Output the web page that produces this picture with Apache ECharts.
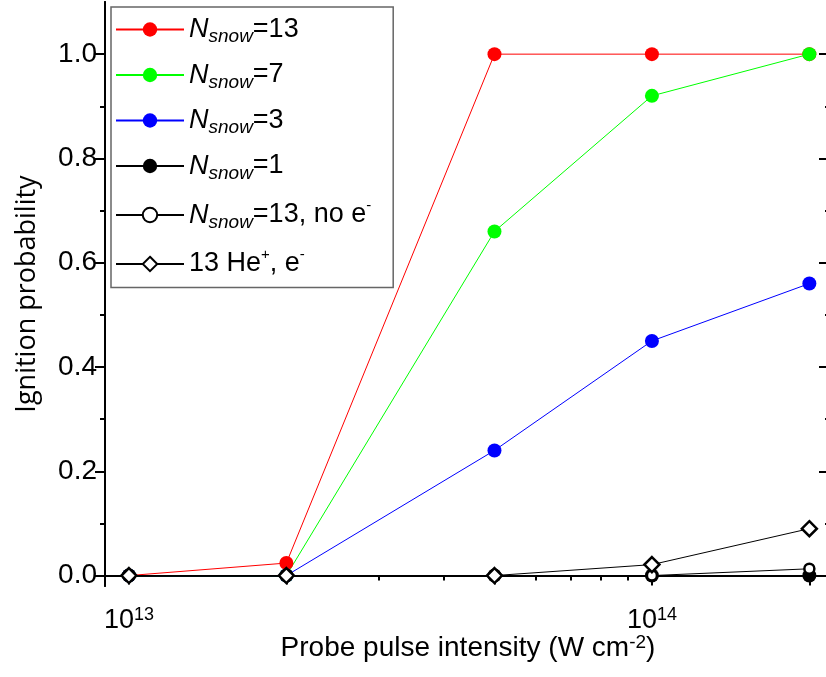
<!DOCTYPE html>
<html>
<head>
<meta charset="utf-8">
<script src="https://cdn.jsdelivr.net/npm/echarts@6/dist/echarts.min.js"></script>
<style>
  html, body { margin: 0; padding: 0; background: #fff; }
  #main { width: 826px; height: 677px; }
</style>
</head>
<body>
<div id="main"></div>
<script>
// data
const intensity = [1e13, 2e13, 5e13, 1e14, 2e14];
const nsnow13 = [0, 0.024, 1.0, 1.0, 1.0];
const nsnow7 = [0, 0, 0.66, 0.92, 1.0];
const nsnow3 = [0, 0, 0.24, 0.45, 0.56];
const nsnow1 = [0, 0, 0, 0, 0];
const nsnow13NoE = [0, 0, 0, 0, 0.013];
const he13 = [0, 0, 0, 0.021, 0.09];

// ticks
const xLabelTicks = [1e13, 1e14];
const xMajorTicks = [1e13, 2e13, 5e13, 1e14, 2e14];
const xMinorTicks = [3e13, 4e13, 6e13, 7e13, 8e13, 9e13];
const xTopMajor = [1e14, 2e14];
const xTopMinor = [1e13, 2e13, 3e13, 4e13, 5e13, 6e13, 7e13, 8e13, 9e13];
const yMajorTicks = [0, 0.2, 0.4, 0.6, 0.8, 1.0];
const yMinorTicks = [0.1, 0.3, 0.5, 0.7, 0.9];

const legendText = {
  n13: "{n|N}{sub|snow}{t|=13}",
  n7: "{n|N}{sub|snow}{t|=7}",
  n3: "{n|N}{sub|snow}{t|=3}",
  n1: "{n|N}{sub|snow}{t|=1}",
  n13noe: "{n|N}{sub|snow}{t|=13, no e}{sup|-}",
  he: "{t|13 He}{sup|+}{t|, e}{sup|-}",
};

const font = "Arial, 'Liberation Sans', sans-serif";
const black = "#000";
const pair = (ys) => intensity.map((x, i) => [x, ys[i]]);

function xAx(pos, ticks, len, inside, extra) {
  return Object.assign({
    type: "log",
    position: pos,
    min: 9e12,
    max: 2.2e14,
    axisLine: { show: true, lineStyle: { color: black, width: 2 } },
    axisTick: { show: true, inside: inside, length: len, customValues: ticks, lineStyle: { color: black, width: 2 } },
    axisLabel: { show: false },
    splitLine: { show: false },
  }, extra || {});
}

function yAx(pos, ticks, len, inside, extra) {
  return Object.assign({
    type: "value",
    position: pos,
    min: -0.02,
    max: 1.1,
    axisLine: { show: true, lineStyle: { color: black, width: 2 } },
    axisTick: { show: true, inside: inside, length: len, customValues: ticks, lineStyle: { color: black, width: 2 } },
    axisLabel: { show: false },
    splitLine: { show: false },
  }, extra || {});
}

function lineSeries(name, ys, color, symbol, size, itemStyle) {
  return {
    name: name,
    type: "line",
    data: pair(ys),
    symbol: symbol,
    symbolSize: size,
    lineStyle: { color: color, width: 1 },
    itemStyle: itemStyle || { color: color },
    emphasis: { disabled: true },
    xAxisIndex: 0,
    yAxisIndex: 0,
  };
}

const option = {
  animation: false,
  backgroundColor: "#fff",
  grid: { left: 105, top: 2, width: 726, height: 584, outerBoundsMode: "none" },
  legend: {
    orient: "vertical",
    left: 111,
    top: 7,
    padding: [9, 22, 10, 4],
    itemWidth: 68,
    itemHeight: 18,
    itemGap: 15,
    selectedMode: false,
    borderColor: "#666",
    borderWidth: 1.5,
    backgroundColor: "#fff",
    formatter: (name) => legendText[name],
    textStyle: {
      color: black,
      fontFamily: font,
      fontSize: 27,
      rich: {
        n: { fontFamily: font, fontSize: 27, fontStyle: "italic", color: black, lineHeight: 34 },
        sub: { fontFamily: font, fontSize: 19, fontStyle: "italic", color: black, lineHeight: 34, verticalAlign: "bottom" },
        t: { fontFamily: font, fontSize: 27, color: black, lineHeight: 34 },
        sup: { fontFamily: font, fontSize: 15, color: black, lineHeight: 34, verticalAlign: "top" },
      },
    },
  },
  xAxis: [
    xAx("bottom", xMajorTicks, 9, false, {
      axisLabel: {
        show: true,
        customValues: xLabelTicks,
        margin: 20,
        formatter: (v) => "{b|10}{s|" + Math.round(Math.log10(v)) + "}",
        rich: {
          b: { fontFamily: font, fontSize: 27, color: black, lineHeight: 30 },
          s: { fontFamily: font, fontSize: 18, color: black, lineHeight: 30, verticalAlign: "top" },
        },
      },
      name: "Probe pulse intensity (W cm{s|-2}{t|)}",
      nameLocation: "middle",
      nameGap: 47,
      nameMoveOverlap: false,
      nameTextStyle: {
        fontFamily: font,
        fontSize: 28,
        color: black,
        rich: {
          s: { fontFamily: font, fontSize: 19, color: black, lineHeight: 30, verticalAlign: "top" },
          t: { fontFamily: font, fontSize: 28, color: black, lineHeight: 30 },
        },
      },
    }),
    xAx("bottom", xMinorTicks, 5, false),
    xAx("top", xTopMajor, 10, true),
    xAx("top", xTopMinor, 5, true),
  ],
  yAxis: [
    yAx("left", yMajorTicks, 10, false, {
      axisLabel: {
        show: true,
        customValues: yMajorTicks,
        margin: 8,
        formatter: (v) => v.toFixed(1),
        fontFamily: font,
        fontSize: 28,
        color: black,
      },
      name: "Ignition probability",
      nameLocation: "middle",
      nameGap: 64,
      nameMoveOverlap: false,
      nameTextStyle: { fontFamily: "'Open Sans', sans-serif", fontSize: 27, color: black },
    }),
    yAx("left", yMinorTicks, 5, false),
    yAx("right", yMajorTicks, 12, true),
    yAx("right", yMinorTicks, 6, true),
  ],
  series: [
    lineSeries("n13", nsnow13, "#ff0000", "circle", 14),
    lineSeries("n7", nsnow7, "#00ff00", "circle", 14),
    lineSeries("n3", nsnow3, "#0000ff", "circle", 14),
    lineSeries("n1", nsnow1, "#000000", "circle", 14),
    lineSeries("n13noe", nsnow13NoE, "#000000", "circle", 10,
      { color: "#fff", borderColor: black, borderWidth: 2.5 }),
    lineSeries("he", he13, "#000000", "diamond", 15,
      { color: "#fff", borderColor: black, borderWidth: 2.5 }),
  ],
};

const myChart = echarts.init(document.getElementById("main"));
myChart.setOption(option);
window.addEventListener("resize", () => myChart.resize());
</script>
</body>
</html>
